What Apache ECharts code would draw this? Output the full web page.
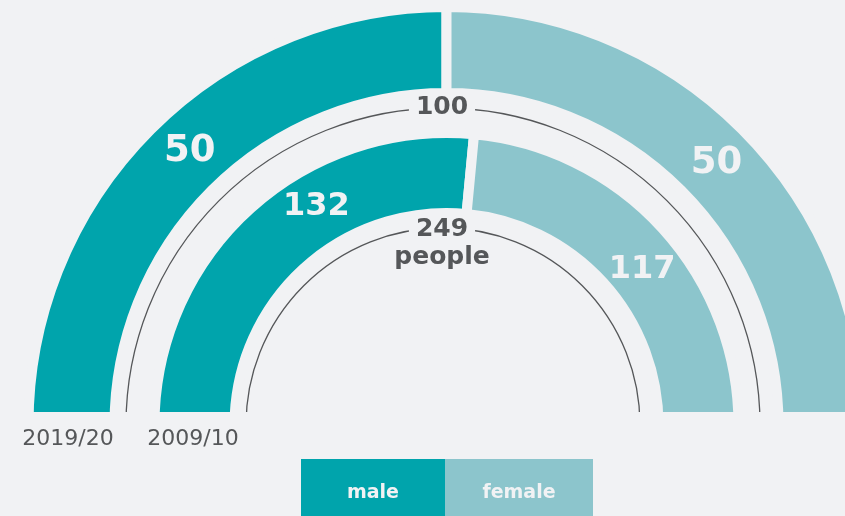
<!DOCTYPE html>
<html>
<head>
<meta charset="utf-8">
<script src="https://cdn.jsdelivr.net/npm/echarts@6/dist/echarts.min.js"></script>
<style>
  html, body { margin: 0; padding: 0; background: #f1f2f4; }
  #chart { width: 845px; height: 516px; }
</style>
</head>
<body>
<div id="chart"></div>
<script>
// 数据
const groups = ['2019/20', '2009/10'];
const genders = ['male', 'female'];
const maleValues = [50, 132];
const femaleValues = [50, 117];
const totalUnits = ['', 'people'];

const BG = '#f1f2f4';
const MALE = '#00a4ac';
const FEMALE = '#8cc5cc';
const DARK = '#555759';
const FONT = 'DejaVu Sans';

// 布局
const cx = 446.5, cy = 425;
const rings = [[332, 418], [212, 292]];   // 含边框宽度
const guideR = [317, 197];
const labelPos = [[[133.2, 375], [44.1, 376]], [[120.8, 254], [38.5, 250]]];

const chart = echarts.init(document.getElementById('chart'));

function ringSeries(i) {
    const total = maleValues[i] + femaleValues[i];
    return {
        type: 'pie',
        silent: true,
        center: [cx, cy],
        radius: rings[i],
        startAngle: 180,
        clockwise: true,
        animation: false,
        itemStyle: { borderColor: BG, borderWidth: 10 },
        label: {
            show: true,
            position: 'inside',
            formatter: '{c}',
            color: BG,
            fontFamily: FONT,
            fontWeight: 'bold',
            fontSize: i === 0 ? 37 : 32,
            align: 'center',
            verticalAlign: 'middle'
        },
        labelLine: { show: false },
        labelLayout: function (p) {
            const pos = labelPos[i][p.dataIndex];
            if (!pos) return {};
            const a = pos[0] * Math.PI / 180;
            return { x: cx + pos[1] * Math.cos(a), y: cy - pos[1] * Math.sin(a) };
        },
        data: [
            { name: genders[0], value: maleValues[i], itemStyle: { color: MALE } },
            { name: genders[1], value: femaleValues[i], itemStyle: { color: FEMALE } },
            { name: 'rest', value: total, itemStyle: { color: 'rgba(0,0,0,0)', borderWidth: 0 }, label: { show: false } }
        ]
    };
}

const graphics = [];
// 下半部分遮盖
graphics.push({
    type: 'rect', z: 100,
    shape: { x: 0, y: 412, width: 845, height: 110 },
    style: { fill: BG }
});
// 细弧线和合计
guideR.forEach((r, i) => {
    graphics.push({
        type: 'arc', z: 90,
        shape: { cx: 443, cy: cy, r: r, startAngle: Math.PI, endAngle: 2 * Math.PI, clockwise: true },
        style: { stroke: DARK, lineWidth: 1.3, fill: null }
    });
    const total = maleValues[i] + femaleValues[i];
    const ty = i === 0 ? 107 : 229;
    graphics.push({
        type: 'text', z: 95, x: 442, y: ty,
        style: {
            text: String(total), fill: DARK, font: 'bold 25px "' + FONT + '"',
            align: 'center', verticalAlign: 'middle',
            backgroundColor: BG, padding: [0, 7]
        }
    });
    if (totalUnits[i]) {
        graphics.push({
            type: 'text', z: 95, x: 442, y: ty + 28,
            style: {
                text: totalUnits[i], fill: DARK, font: 'bold 25px "' + FONT + '"',
                align: 'center', verticalAlign: 'middle'
            }
        });
    }
});
// 年份标签
const groupX = [68, 193];
groups.forEach((g, i) => {
    graphics.push({
        type: 'text', z: 110, x: groupX[i], y: 439,
        style: { text: g, fill: DARK, font: '22px "' + FONT + '"', align: 'center', verticalAlign: 'middle' }
    });
});
// 图例
const legendColors = [MALE, FEMALE];
const legendX = [301, 445];
const legendW = [144, 148];
genders.forEach((g, i) => {
    graphics.push({
        type: 'rect', z: 110,
        shape: { x: legendX[i], y: 459, width: legendW[i], height: 60 },
        style: { fill: legendColors[i] }
    });
    graphics.push({
        type: 'text', z: 111, x: legendX[i] + legendW[i] / 2, y: 493,
        style: { text: g, fill: BG, font: 'bold 19px "' + FONT + '"', align: 'center', verticalAlign: 'middle' }
    });
});

chart.setOption({
    backgroundColor: BG,
    animation: false,
    series: [ringSeries(0), ringSeries(1)],
    graphic: { elements: graphics }
});
window.addEventListener('resize', () => chart.resize());
</script>
</body>
</html>
